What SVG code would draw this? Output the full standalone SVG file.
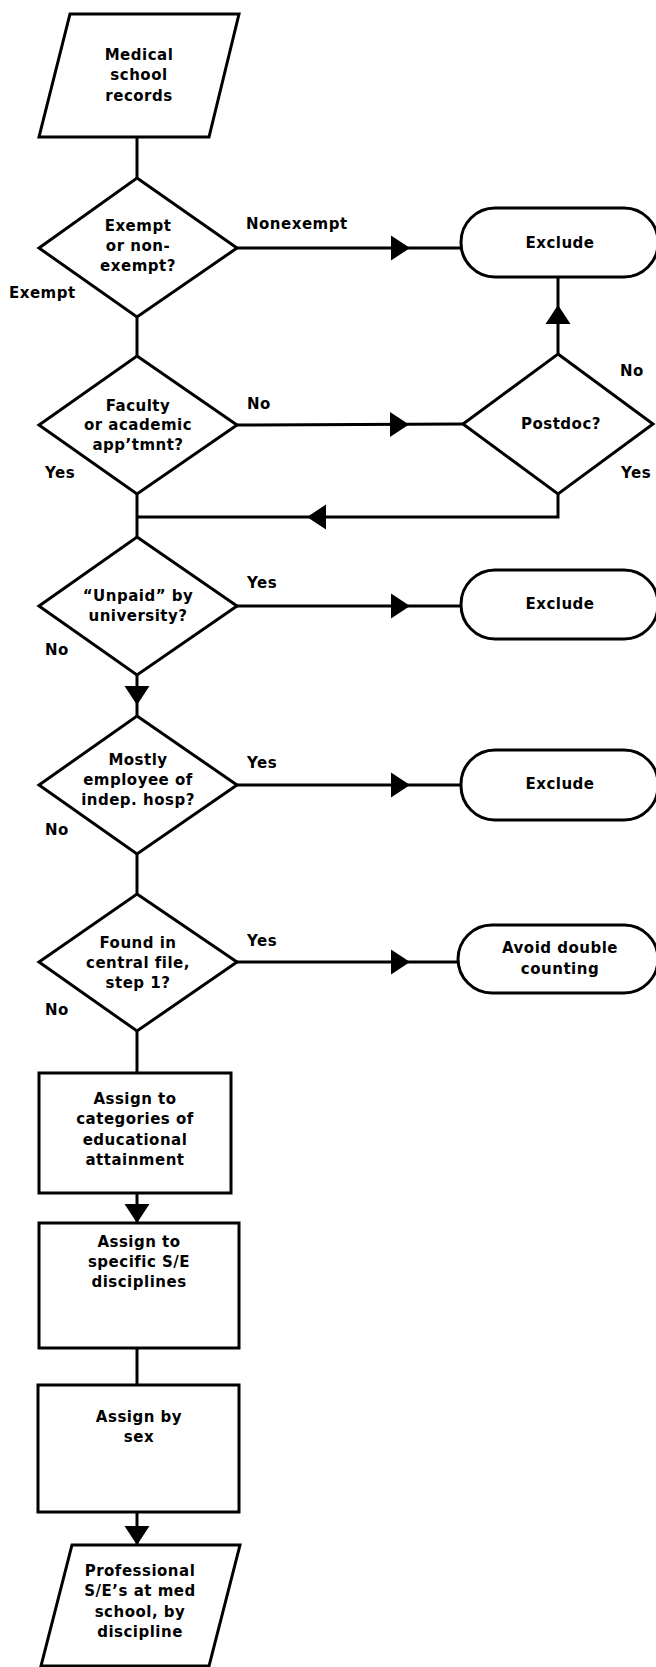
<svg xmlns="http://www.w3.org/2000/svg" xmlns:xlink="http://www.w3.org/1999/xlink" width="656" height="1667" viewBox="0 0 656 1667">
<style>
.shape{fill:#fff;stroke:#000;stroke-width:3;stroke-linejoin:miter}
.line{fill:none;stroke:#000;stroke-width:3}
.ah{fill:#000}
text{font-family:"DejaVu Sans","Liberation Sans",sans-serif;font-weight:bold;font-size:15px;letter-spacing:0.5px;fill:#000}
.c{text-anchor:middle}
</style>
<defs>
<path id="ah" d="M0,0 L-19,-12.5 L-19,12.5 Z"/>
</defs>
<rect width="656" height="1667" fill="#fff"/>
<g id="connectors">
<path class="line" d="M137,137 V178"/>
<path class="line" d="M237,248 H461"/>
<path class="line" d="M137,317 V356"/>
<path class="line" d="M558,277 V354"/>
<path class="line" d="M237,425 L463,424"/>
<path class="line" d="M558,494 V517 H137"/>
<path class="line" d="M137,494 V537"/>
<path class="line" d="M237,606 H461"/>
<path class="line" d="M137,675 V716"/>
<path class="line" d="M237,785 H461"/>
<path class="line" d="M137,854 V894"/>
<path class="line" d="M237,962 H458"/>
<path class="line" d="M137,1031 V1073"/>
<path class="line" d="M137,1193 V1223"/>
<path class="line" d="M137,1348 V1385"/>
<path class="line" d="M137,1512 V1545"/>
<use xlink:href="#ah" class="ah" transform="translate(410,248)"/>
<use xlink:href="#ah" class="ah" transform="translate(558,305) rotate(-90)"/>
<use xlink:href="#ah" class="ah" transform="translate(409,424.5)"/>
<use xlink:href="#ah" class="ah" transform="translate(307,517) rotate(180)"/>
<use xlink:href="#ah" class="ah" transform="translate(410,606)"/>
<use xlink:href="#ah" class="ah" transform="translate(137,705) rotate(90)"/>
<use xlink:href="#ah" class="ah" transform="translate(410,785)"/>
<use xlink:href="#ah" class="ah" transform="translate(410,962)"/>
<use xlink:href="#ah" class="ah" transform="translate(137,1223) rotate(90)"/>
<use xlink:href="#ah" class="ah" transform="translate(137,1545) rotate(90)"/>
<text x="246" y="229">Nonexempt</text>
<text x="9" y="298">Exempt</text>
<text x="247" y="409">No</text>
<text x="45" y="478">Yes</text>
<text x="620" y="376">No</text>
<text x="621" y="478">Yes</text>
<text x="247" y="588">Yes</text>
<text x="45" y="655">No</text>
<text x="247" y="768">Yes</text>
<text x="45" y="835">No</text>
<text x="247" y="946">Yes</text>
<text x="45" y="1015">No</text>
</g>
<g id="start">
<polygon class="shape" points="70,14 239,14 209,137 39,137"/>
<text class="c" x="139" y="60">Medical</text>
<text class="c" x="139" y="80">school</text>
<text class="c" x="139" y="101">records</text>
</g>
<g id="exempt">
<polygon class="shape" points="137,178 237,248 137,317 39,248"/>
<text class="c" x="138" y="231">Exempt</text>
<text class="c" x="138" y="251">or non-</text>
<text class="c" x="138" y="271">exempt?</text>
</g>
<g id="exclude1">
<rect class="shape" x="461" y="208" width="197" height="69" rx="34" ry="34"/>
<text class="c" x="560" y="248">Exclude</text>
</g>
<g id="faculty">
<polygon class="shape" points="137,356 237,425 137,494 39,425"/>
<text class="c" x="138" y="411">Faculty</text>
<text class="c" x="138" y="430">or academic</text>
<text class="c" x="138" y="450">app’tmnt?</text>
</g>
<g id="postdoc">
<polygon class="shape" points="558,354 653,424 558,494 463,424"/>
<text class="c" x="561" y="429">Postdoc?</text>
</g>
<g id="unpaid">
<polygon class="shape" points="137,537 237,606 137,675 39,606"/>
<text class="c" x="138" y="601">“Unpaid” by</text>
<text class="c" x="138" y="621">university?</text>
</g>
<g id="exclude2">
<rect class="shape" x="461" y="570" width="197" height="69" rx="34" ry="34"/>
<text class="c" x="560" y="609">Exclude</text>
</g>
<g id="mostly">
<polygon class="shape" points="137,716 237,785 137,854 39,785"/>
<text class="c" x="138" y="765">Mostly</text>
<text class="c" x="138" y="785">employee of</text>
<text class="c" x="138" y="805">indep. hosp?</text>
</g>
<g id="exclude3">
<rect class="shape" x="461" y="750" width="197" height="70" rx="34" ry="34"/>
<text class="c" x="560" y="789">Exclude</text>
</g>
<g id="found">
<polygon class="shape" points="137,894 237,962 137,1031 39,962"/>
<text class="c" x="138" y="948">Found in</text>
<text class="c" x="138" y="968">central file,</text>
<text class="c" x="138" y="988">step 1?</text>
</g>
<g id="avoid">
<rect class="shape" x="458" y="925" width="200" height="68" rx="34" ry="34"/>
<text class="c" x="560" y="953">Avoid double</text>
<text class="c" x="560" y="974">counting</text>
</g>
<g id="education">
<rect class="shape" x="39" y="1073" width="192" height="120"/>
<text class="c" x="135" y="1104">Assign to</text>
<text class="c" x="135" y="1124">categories of</text>
<text class="c" x="135" y="1145">educational</text>
<text class="c" x="135" y="1165">attainment</text>
</g>
<g id="discipline">
<rect class="shape" x="39" y="1223" width="200" height="125"/>
<text class="c" x="139" y="1247">Assign to</text>
<text class="c" x="139" y="1267">specific S/E</text>
<text class="c" x="139" y="1287">disciplines</text>
</g>
<g id="sex">
<rect class="shape" x="38" y="1385" width="201" height="127"/>
<text class="c" x="139" y="1422">Assign by</text>
<text class="c" x="139" y="1442">sex</text>
</g>
<g id="output">
<polygon class="shape" points="72,1545 240,1545 209,1666 41,1666"/>
<text class="c" x="140" y="1576">Professional</text>
<text class="c" x="140" y="1596">S/E’s at med</text>
<text class="c" x="140" y="1617">school, by</text>
<text class="c" x="140" y="1637">discipline</text>
</g>
</svg>
